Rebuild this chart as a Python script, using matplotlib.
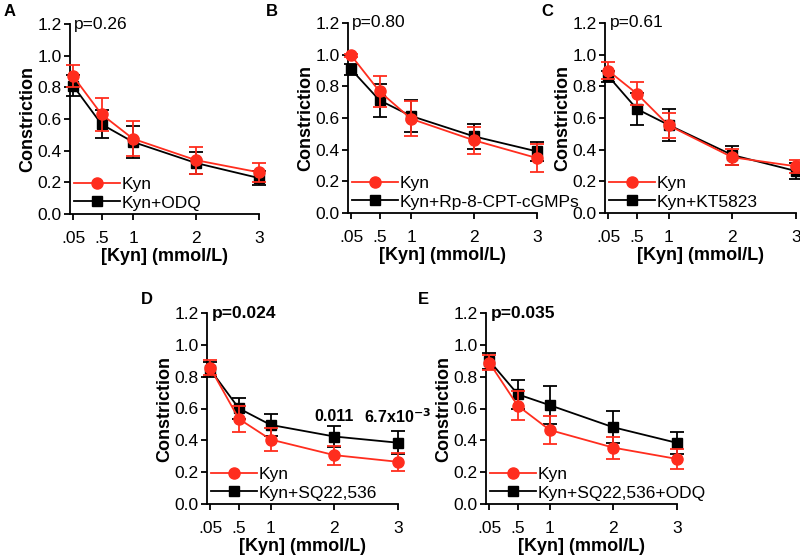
import numpy as np
import matplotlib
matplotlib.use("Agg")
from matplotlib import pyplot as plt
from matplotlib.lines import Line2D

plt.rcParams['font.family'] = ['Liberation Sans', 'DejaVu Sans']

# kynurenine concentrations (mmol/L)
kyn = [0.05, 0.5, 1, 2, 3]
xtick_labels = [".05", ".5", "1", "2", "3"]

# panel A
a_kyn = [0.87, 0.63, 0.475, 0.34, 0.263]
a_kyn_err = [0.07, 0.105, 0.11, 0.085, 0.06]
a_trt = [0.81, 0.567, 0.455, 0.322, 0.227]
a_trt_err = [0.065, 0.09, 0.10, 0.07, 0.045]

# panel B
b_kyn = [0.995, 0.768, 0.595, 0.459, 0.347]
b_kyn_err = [0.01, 0.097, 0.11, 0.086, 0.09]
b_trt = [0.907, 0.712, 0.613, 0.484, 0.389]
b_trt_err = [0.035, 0.105, 0.10, 0.08, 0.06]

# panel C
c_kyn = [0.899, 0.754, 0.553, 0.352, 0.295]
c_kyn_err = [0.055, 0.075, 0.08, 0.05, 0.04]
c_trt = [0.865, 0.657, 0.556, 0.366, 0.265]
c_trt_err = [0.035, 0.10, 0.10, 0.06, 0.05]

# panel D
d_kyn = [0.856, 0.535, 0.405, 0.307, 0.265]
d_kyn_err = [0.048, 0.08, 0.07, 0.06, 0.055]
d_trt = [0.845, 0.601, 0.497, 0.424, 0.385]
d_trt_err = [0.045, 0.068, 0.068, 0.068, 0.072]

# panel E
e_kyn = [0.889, 0.617, 0.465, 0.354, 0.283]
e_kyn_err = [0.05, 0.09, 0.09, 0.07, 0.06]
e_trt = [0.901, 0.689, 0.621, 0.482, 0.384]
e_trt_err = [0.05, 0.09, 0.118, 0.10, 0.07]

labels = ["A", "B", "C", "D", "E"]
treatments = ["Kyn+ODQ", "Kyn+Rp-8-CPT-cGMPs", "Kyn+KT5823",
              "Kyn+SQ22,536", "Kyn+SQ22,536+ODQ"]
pvals = ["p=0.26", "p=0.80", "p=0.61", "p=0.024", "p=0.035"]
pbold = [False, False, False, True, True]

kyn_series = [a_kyn, b_kyn, c_kyn, d_kyn, e_kyn]
kyn_errs = [a_kyn_err, b_kyn_err, c_kyn_err, d_kyn_err, e_kyn_err]
trt_series = [a_trt, b_trt, c_trt, d_trt, e_trt]
trt_errs = [a_trt_err, b_trt_err, c_trt_err, d_trt_err, e_trt_err]

# axes boxes in pixels: left, top, right, bottom
W, H = 800, 557
boxes = [(70, 24, 259, 214), (348, 23, 537, 213), (605, 23, 796, 213),
         (207, 313, 398, 504), (486, 313, 677, 504)]
letter_pos = [(4, 12), (266, 12), (541, 12), (141, 300), (418, 300)]

red = "#ff2d1e"

fig = plt.figure(figsize=(8, 5.57), dpi=100)

for i in range(5):
    l, t, r, b = boxes[i]
    ax = fig.add_axes([l / W, 1 - b / H, (r - l) / W, (b - t) / H])
    ax.errorbar(kyn, kyn_series[i], yerr=kyn_errs[i], color=red, marker="o",
                markersize=8, lw=1.3, capsize=5, capthick=1.3, elinewidth=1.3,
                clip_on=False, zorder=3)
    ax.errorbar(kyn, trt_series[i], yerr=trt_errs[i], color="black", marker="s",
                markersize=7, lw=1.3, capsize=5, capthick=1.3, elinewidth=1.3,
                clip_on=False, zorder=2)
    ax.set_xlim(0, 3)
    ax.set_ylim(0, 1.2)
    ax.set_xticks(kyn)
    ax.set_xticklabels(xtick_labels)
    ax.set_yticks(np.arange(0, 1.21, 0.2))
    ax.set_yticklabels(["%.1f" % v for v in np.arange(0, 1.21, 0.2)])
    ax.tick_params(labelsize=12.5, width=1.3, length=4, pad=2)
    ax.tick_params(axis="x", pad=8)
    for s in ["top", "right"]:
        ax.spines[s].set_visible(False)
    for s in ["left", "bottom"]:
        ax.spines[s].set_linewidth(1.3)
    ax.set_ylabel("Constriction", fontsize=13, fontweight="bold", labelpad=1)
    ax.set_xlabel("[Kyn] (mmol/L)", fontsize=13, fontweight="bold", labelpad=2)
    ax.text(0.07, 1.2, pvals[i], fontsize=12.5, va="center", ha="left",
            fontweight="bold" if pbold[i] else "normal")
    handles = [Line2D([], [], color=red, marker="o", markersize=8, lw=1.3),
               Line2D([], [], color="black", marker="s", markersize=7, lw=1.3)]
    ax.legend(handles, ["Kyn", treatments[i]], loc="lower left",
              bbox_to_anchor=(0.005, 0.0), frameon=False, fontsize=12.5,
              handlelength=2.6, handletextpad=0.1, labelspacing=0.2,
              borderpad=0.1, borderaxespad=0.1)
    fig.text(letter_pos[i][0] / W, 1 - letter_pos[i][1] / H, labels[i],
             fontsize=12, fontweight="bold", ha="left", va="center")
    if i == 3:
        ax.text(2, 0.55, "0.011", fontsize=11.5, fontweight="bold",
                ha="center", va="center")
        ax.text(3, 0.55, r"6.7x10$^{\mathbf{-3}}$", fontsize=11.5,
                fontweight="bold", ha="center", va="center", clip_on=False)

fig.savefig("out.png", dpi=100)
